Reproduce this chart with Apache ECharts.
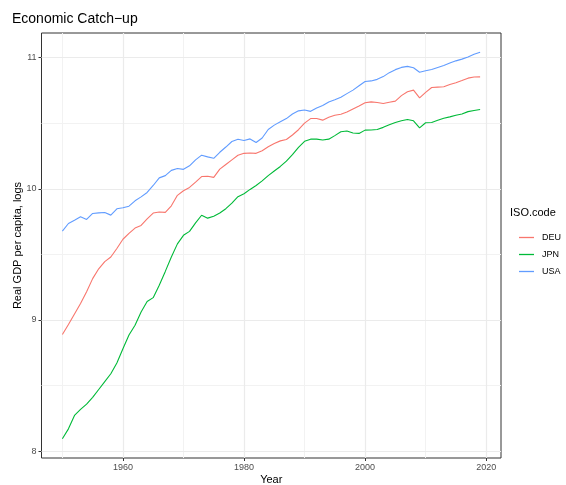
<!DOCTYPE html>
<html>
<head>
<meta charset="utf-8">
<script src="https://cdn.jsdelivr.net/npm/echarts@6/dist/echarts.min.js"></script>
<style>
  html, body { margin: 0; padding: 0; background: #fff; }
  #chart { width: 566px; height: 485px; }
</style>
</head>
<body>
<div id="chart"></div>
<script>
// Log real GDP per capita, 1950–2019
const years = [];
for (let y = 1950; y <= 2019; y++) years.push(y);

const deu = [
  8.889, 8.965, 9.045, 9.125, 9.215, 9.315, 9.390, 9.445, 9.480, 9.545,
  9.615, 9.660, 9.700, 9.720, 9.770, 9.815, 9.823, 9.820, 9.870, 9.950,
  9.985, 10.010, 10.050, 10.093, 10.095, 10.087, 10.150, 10.185, 10.220, 10.255,
  10.270, 10.272, 10.270, 10.290, 10.320, 10.345, 10.365, 10.375, 10.410, 10.450,
  10.500, 10.535, 10.535, 10.523, 10.545, 10.560, 10.568, 10.585, 10.608, 10.630,
  10.655, 10.662, 10.658, 10.650, 10.660, 10.668, 10.710, 10.740, 10.752, 10.693,
  10.735, 10.772, 10.775, 10.778, 10.795, 10.808, 10.825, 10.843, 10.852, 10.853
];

const jpn = [
  8.095, 8.170, 8.272, 8.318, 8.358, 8.410, 8.470, 8.530, 8.590, 8.672,
  8.780, 8.885, 8.960, 9.060, 9.140, 9.170, 9.265, 9.370, 9.480, 9.580,
  9.645, 9.675, 9.740, 9.798, 9.776, 9.790, 9.815, 9.848, 9.890, 9.940,
  9.962, 9.995, 10.025, 10.060, 10.100, 10.135, 10.170, 10.210, 10.260, 10.315,
  10.362, 10.378, 10.378, 10.372, 10.378, 10.405, 10.435, 10.440, 10.425, 10.422,
  10.447, 10.448, 10.452, 10.468, 10.488, 10.505, 10.518, 10.528, 10.518, 10.464,
  10.503, 10.505, 10.522, 10.538, 10.548, 10.560, 10.570, 10.588, 10.596, 10.604
];

const usa = [
  9.677, 9.735, 9.760, 9.786, 9.766, 9.812, 9.816, 9.819, 9.799, 9.847,
  9.855, 9.867, 9.908, 9.938, 9.972, 10.025, 10.083, 10.100, 10.140, 10.155,
  10.148, 10.175, 10.220, 10.256, 10.243, 10.232, 10.278, 10.318, 10.360, 10.377,
  10.368, 10.380, 10.353, 10.387, 10.452, 10.485, 10.510, 10.535, 10.570, 10.594,
  10.600, 10.590, 10.615, 10.635, 10.662, 10.678, 10.697, 10.725, 10.752, 10.785,
  10.818, 10.822, 10.834, 10.855, 10.885, 10.908, 10.925, 10.933, 10.922, 10.888,
  10.900, 10.909, 10.925, 10.940, 10.958, 10.975, 10.988, 11.005, 11.025, 11.040
];

const seriesNames = ['DEU', 'JPN', 'USA'];
const seriesColors = ['#F8766D', '#00BA38', '#619CFF'];

const xBreaks = [1960, 1980, 2000, 2020];
const xMinorBreaks = [1950, 1970, 1990, 2010];
const yBreaks = [8, 9, 10, 11];
const yMinorBreaks = [8.5, 9.5, 10.5];

// continuous scales padded by 5% of the data range on each side
function padded(vals) {
  const lo = Math.min(...vals), hi = Math.max(...vals);
  const p = (hi - lo) * 0.05;
  return [lo - p, hi + p];
}
const xr = padded(years);
const yr = padded(deu.concat(jpn, usa));

const font = 'Liberation Sans, Arial, sans-serif';
const gridColor = '#EBEBEB';
const minorColor = '#F2F2F2';

const pairs = v => years.map((y, i) => [y, v[i]]);
const dataSets = [deu, jpn, usa];

const chart = echarts.init(document.getElementById('chart'), null, { renderer: 'canvas' });

const series = [
  {
    name: '__grid',
    type: 'line',
    data: [],
    z: 1,
    zlevel: 0,
    silent: true,
    markLine: {
      silent: true,
      symbol: 'none',
      label: { show: false },
      animation: false,
      data: [
        ...xMinorBreaks.map(v => ({ xAxis: v, lineStyle: { color: minorColor, width: 1, type: 'solid' } })),
        ...yMinorBreaks.map(v => ({ yAxis: v, lineStyle: { color: minorColor, width: 1, type: 'solid' } })),
        ...xBreaks.map(v => ({ xAxis: v, lineStyle: { color: gridColor, width: 1.2, type: 'solid' } })),
        ...yBreaks.map(v => ({ yAxis: v, lineStyle: { color: gridColor, width: 1.2, type: 'solid' } }))
      ]
    }
  },
  ...seriesNames.map((name, i) => ({
    name,
    type: 'line',
    data: pairs(dataSets[i]),
    z: 3,
    zlevel: 1,
    showSymbol: false,
    symbol: 'none',
    lineStyle: { color: seriesColors[i], width: 1.1 },
    itemStyle: { color: seriesColors[i] }
  }))
];

chart.setOption({
  animation: false,
  backgroundColor: '#ffffff',
  title: {
    text: 'Economic Catch\u2212up',
    left: 12,
    top: 12,
    padding: 0,
    textStyle: { fontFamily: font, fontSize: 14, fontWeight: 'normal', color: '#000' }
  },
  grid: {
    left: 41.5,
    right: 65,
    top: 33,
    bottom: 27,
    show: true,
    borderColor: '#333333',
    borderWidth: 1,
    backgroundColor: 'transparent',
    containLabel: false,
    outerBoundsMode: 'none'
  },
  legend: {
    data: seriesNames,
    orient: 'vertical',
    left: 514,
    top: 228,
    icon: 'rect',
    itemWidth: 15,
    itemHeight: 1.3,
    itemGap: 8,
    textStyle: { fontFamily: font, fontSize: 9, color: '#000', padding: [0, 0, 0, 3] },
    selectedMode: false,
    zlevel: 1
  },
  graphic: [
    {
      type: 'text',
      left: 510,
      top: 207,
      style: { text: 'ISO.code', fontFamily: font, fontSize: 11, fill: '#000' }
    }
  ],
  xAxis: {
    type: 'value',
    min: xr[0],
    max: xr[1],
    name: 'Year',
    nameLocation: 'middle',
    nameGap: 16.5,
    nameMoveOverlap: false,
    nameTextStyle: { fontFamily: font, fontSize: 11, color: '#000' },
    axisLine: { show: false },
    axisTick: { show: true, length: 3, customValues: xBreaks, lineStyle: { color: '#333333' } },
    axisLabel: {
      customValues: xBreaks,
      formatter: v => String(Math.round(v)),
      fontFamily: font, fontSize: 9, color: '#4D4D4D', margin: 5
    },
    splitLine: { show: false },
    minorSplitLine: { show: false }
  },
  yAxis: {
    type: 'value',
    min: yr[0],
    max: yr[1],
    name: 'Real GDP per capita, logs',
    nameLocation: 'middle',
    nameGap: 18,
    nameMoveOverlap: false,
    nameRotate: 90,
    nameTextStyle: { fontFamily: font, fontSize: 11, color: '#000' },
    axisLine: { show: false },
    axisTick: { show: true, length: 3, customValues: yBreaks, lineStyle: { color: '#333333' } },
    axisLabel: {
      customValues: yBreaks,
      formatter: v => String(Math.round(v)),
      fontFamily: font, fontSize: 9, color: '#4D4D4D', margin: 5
    },
    splitLine: { show: false }
  },
  series
});
</script>
</body>
</html>
